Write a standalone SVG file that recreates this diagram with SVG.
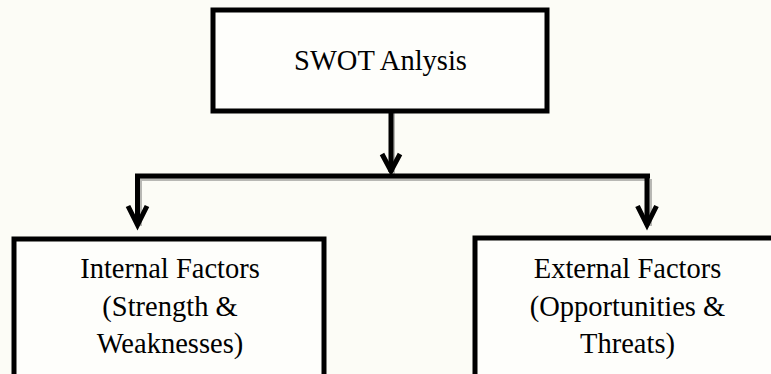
<svg xmlns="http://www.w3.org/2000/svg" width="771" height="374" viewBox="0 0 771 374">
<style>
.box{fill:#fefefb;stroke:#000;stroke-width:5}
.ln{fill:none;stroke:#000;stroke-width:5}
.sh{fill:none;stroke:#b8b8b4;stroke-width:4}
.t{font-family:"Liberation Serif","Times New Roman",serif;font-size:28.5px;fill:#000;text-anchor:middle}
</style>
<rect width="771" height="374" fill="#fcfcf6"/>
<g id="connectors">
<path class="sh" d="M393 113V174M137 179H649M140 179V226M650 179V226"/>
<path class="ln" d="M391 112V172M135 176H650M137.5 176V225M647 176V225"/>
<path class="ln" d="M382 154L391 171L400 154"/>
<path class="ln" d="M128 206L137.5 225L147 206"/>
<path class="ln" d="M637.5 206L647 225L656.5 206"/>
</g>
<g id="swot">
<rect class="box" x="213" y="10" width="334" height="101"/>
<text class="t" x="380.5" y="70">SWOT Anlysis</text>
</g>
<g id="internal">
<rect class="box" x="14" y="239" width="310" height="150"/>
<text class="t" x="170" y="278">Internal Factors</text>
<text class="t" x="170" y="315.5">(Strength &amp;</text>
<text class="t" x="170" y="353">Weaknesses)</text>
</g>
<g id="external">
<rect class="box" x="475" y="238" width="310" height="150"/>
<text class="t" x="627.5" y="278">External Factors</text>
<text class="t" x="627.5" y="315.5">(Opportunities &amp;</text>
<text class="t" x="627.5" y="353">Threats)</text>
</g>
</svg>
